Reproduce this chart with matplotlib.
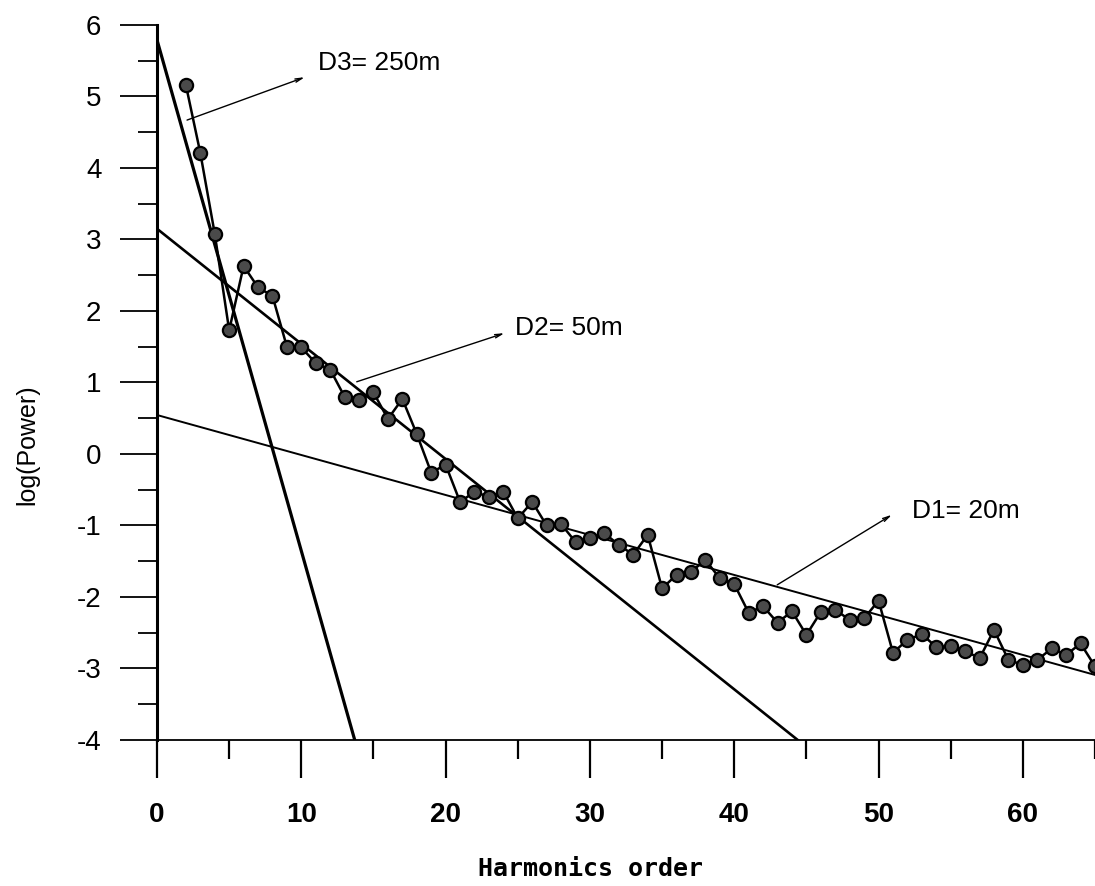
import numpy as np
import matplotlib
matplotlib.use("Agg")
import matplotlib.pyplot as plt
from matplotlib.ticker import MultipleLocator

#####################################################################
#  Data
#####################################################################
harmonics = np.arange(2, 66)
log_power = [5.16, 4.21, 3.08, 1.73, 2.63, 2.33, 2.21, 1.50, 1.49, 1.27,
             1.18, 0.80, 0.75, 0.86, 0.49, 0.77, 0.28, -0.26, -0.15, -0.67,
             -0.53, -0.60, -0.53, -0.90, -0.67, -1.00, -0.98, -1.23, -1.18, -1.11,
             -1.27, -1.41, -1.13, -1.88, -1.69, -1.65, -1.48, -1.74, -1.82, -2.22,
             -2.13, -2.36, -2.20, -2.53, -2.21, -2.18, -2.32, -2.30, -2.05, -2.78,
             -2.60, -2.52, -2.70, -2.69, -2.75, -2.86, -2.46, -2.88, -2.95, -2.88,
             -2.72, -2.81, -2.65, -2.97]

# fitted lines (end points)
d3_x = [0, 13.7]
d3_y = [5.79, -4.0]
d2_x = [0, 44.4]
d2_y = [3.15, -4.0]
d1_x = [0, 65]
d1_y = [0.545, -3.09]

# labels: text position, leader line (text end -> line end)
labels = ['D3= 250m', 'D2= 50m', 'D1= 20m']
label_pos = [(11.14, 5.47), (24.78, 1.76), (52.32, -0.80)]
leader_start = [(10.24, 5.27), (24.08, 1.69), (50.93, -0.85)]
leader_end = [(2.08, 4.67), (13.84, 1.01), (42.98, -1.83)]

x_ticks = [0, 10, 20, 30, 40, 50, 60]
y_ticks = [-4, -3, -2, -1, 0, 1, 2, 3, 4, 5, 6]

#####################################################################
#  Plot
#####################################################################
plt.rcParams['font.family'] = ['Liberation Sans', 'DejaVu Sans']
plt.rcParams['axes.unicode_minus'] = False

fig = plt.figure(figsize=(10.95, 8.86), dpi=100)
ax = fig.add_axes([0.1434, 0.1648, 0.8566, 0.807])

ax.plot(d3_x, d3_y, color='black', linewidth=2.3)
ax.plot(d2_x, d2_y, color='black', linewidth=1.9)
ax.plot(d1_x, d1_y, color='black', linewidth=1.4)

ax.plot(harmonics, log_power, color='black', linewidth=1.8,
        marker='o', markersize=9.5, markerfacecolor='#4a4a4a',
        markeredgecolor='black', markeredgewidth=1.6)

for lab, pos, s, e in zip(labels, label_pos, leader_start, leader_end):
    ax.text(pos[0], pos[1], lab, fontsize=19, va='center', ha='left')
    ax.annotate('', xy=s, xytext=e,
                arrowprops=dict(arrowstyle='->, head_length=0.5, head_width=0.12',
                                lw=1.0, color='black', shrinkA=0, shrinkB=0))

ax.set_xlim(0, 65)
ax.set_ylim(-4, 6)

ax.spines['top'].set_visible(False)
ax.spines['right'].set_visible(False)
ax.spines['left'].set_linewidth(2.2)
ax.spines['bottom'].set_linewidth(1.3)

ax.set_xticks(x_ticks)
ax.set_yticks(y_ticks)
ax.xaxis.set_minor_locator(MultipleLocator(5))
ax.yaxis.set_minor_locator(MultipleLocator(0.5))

ax.tick_params(axis='x', which='major', direction='out', length=27, width=1.6, pad=18)
ax.tick_params(axis='x', which='minor', direction='out', length=14, width=1.6)
ax.tick_params(axis='y', which='major', direction='out', length=27, width=1.3, pad=13)
ax.tick_params(axis='y', which='minor', direction='out', length=14, width=1.3)

for t in ax.get_xticklabels():
    t.set_fontsize(20)
    t.set_fontweight('bold')
for t in ax.get_yticklabels():
    t.set_fontsize(20)

fig.text(0.025, 0.498, 'log(Power)', rotation=90, fontsize=18,
         ha='center', va='center')
fig.text(0.539, 0.019, 'Harmonics order', fontsize=18, fontweight='bold',
         family='DejaVu Sans Mono', ha='center', va='center')

plt.savefig('out.png', dpi=100)
